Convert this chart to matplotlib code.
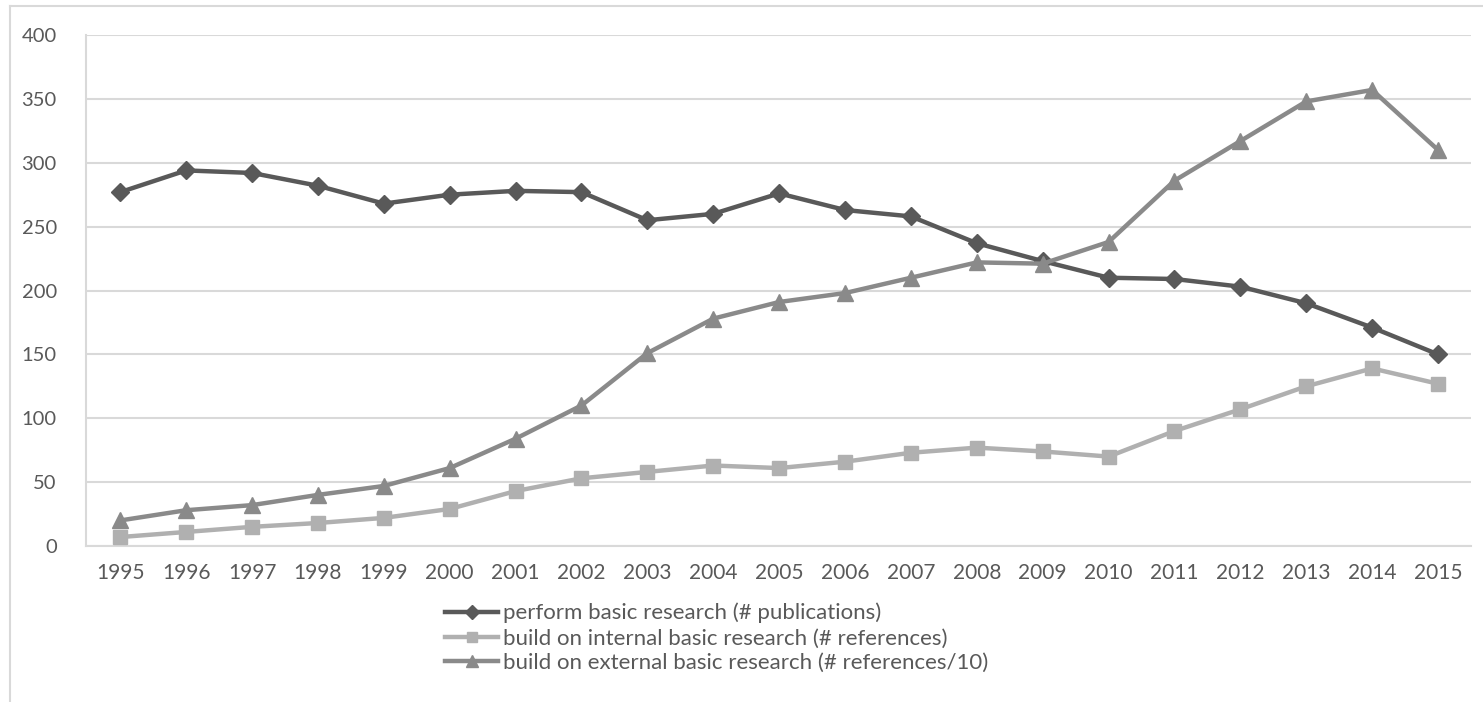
import matplotlib
matplotlib.use("Agg")
import matplotlib.pyplot as plt
from matplotlib.lines import Line2D

years = list(range(1995, 2016))
year_labels = [str(y) for y in years]
perform_basic = [277, 294, 292, 282, 268, 275, 278, 277, 255, 260, 276,
                 263, 258, 237, 223, 210, 209, 203, 190, 171, 150]
internal_refs = [7, 11, 15, 18, 22, 29, 43, 53, 58, 63, 61,
                 66, 73, 77, 74, 70, 90, 107, 125, 139, 127]
external_refs = [20, 28, 32, 40, 47, 61, 84, 110, 151, 178, 191,
                 198, 210, 222, 221, 238, 286, 317, 348, 357, 310]
series_names = ["perform basic research (# publications)",
                "build on internal basic research (# references)",
                "build on external basic research (# references/10)"]
y_ticks = [0, 50, 100, 150, 200, 250, 300, 350, 400]

plt.rcParams['font.family'] = ['Lato', 'DejaVu Sans']
W, H = 1483, 702
fig = plt.figure(figsize=(W / 100, H / 100), dpi=100)
ax = fig.add_axes([86 / W, 1 - 546 / H, (1471 - 86) / W, (546 - 35) / H])

text_c = "#595959"
grid_c = "#d9d9d9"

ax.plot(years, perform_basic, color="#595959", lw=3.2, marker="D", ms=9,
        label=series_names[0], zorder=3)
ax.plot(years, internal_refs, color="#b0b0b0", lw=3.2, marker="s", ms=10,
        label=series_names[1], zorder=3)
ax.plot(years, external_refs, color="#8a8a8a", lw=3.2, marker="^", ms=11,
        label=series_names[2], zorder=3)

ax.set_xlim(1994.48, 2015.5)
ax.set_ylim(0, 400)
ax.set_yticks(y_ticks)
ax.set_xticks(years)
ax.set_xticklabels(year_labels)
ax.grid(axis="y", color=grid_c, lw=1.5)
ax.set_axisbelow(True)
for s in ["top", "right"]:
    ax.spines[s].set_visible(False)
ax.spines["left"].set_color(grid_c)
ax.spines["left"].set_linewidth(1.5)
ax.spines["bottom"].set_color(grid_c)
ax.spines["bottom"].set_linewidth(1.5)
ax.tick_params(axis="both", length=0, colors=text_c)
ax.tick_params(axis="y", labelsize=14.5, pad=21)
ax.tick_params(axis="x", labelsize=15, pad=12)

leg = fig.legend(loc="upper left", bbox_to_anchor=(436 / W, 1 - 594 / H),
                 frameon=False, fontsize=16, handlelength=2.4,
                 handletextpad=0.2, labelspacing=0.22, borderaxespad=0,
                 markerscale=0.75)
for t in leg.get_texts():
    t.set_color(text_c)

# outer chart border (partially visible)
fig.add_artist(Line2D([10 / W, 1.0], [1 - 6 / H, 1 - 6 / H], color=grid_c,
                      lw=1.5, transform=fig.transFigure))
fig.add_artist(Line2D([10 / W, 10 / W], [0.0, 1 - 6 / H], color=grid_c,
                      lw=1.5, transform=fig.transFigure))

fig.savefig("out.png", dpi=100, facecolor="white")
